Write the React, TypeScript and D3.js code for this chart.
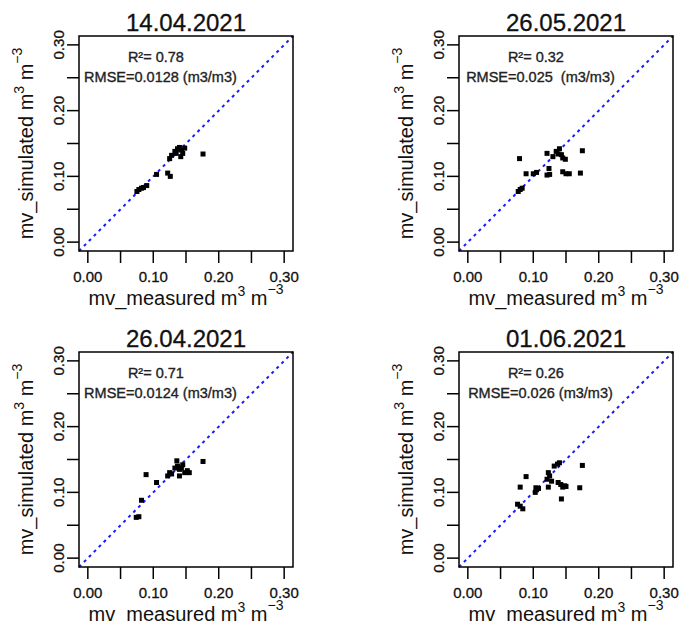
import React from "react";
import * as d3 from "d3";

const titles = ["14.04.2021", "26.05.2021", "26.04.2021", "01.06.2021"];
const r2Labels = ["R²= 0.78", "R²= 0.32", "R²= 0.71", "R²= 0.26"];
const rmseLabels = [
  "RMSE=0.0128 (m3/m3)",
  "RMSE=0.025  (m3/m3)",
  "RMSE=0.0124 (m3/m3)",
  "RMSE=0.026 (m3/m3)",
];
const tickValues = [0, 0.05, 0.1, 0.15, 0.2, 0.25, 0.3];
const labeledTicks = [0, 0.1, 0.2, 0.3];

// measured (x) and simulated (y) soil moisture per date
const measured1 = [0.075, 0.078, 0.082, 0.085, 0.09, 0.105, 0.122, 0.126, 0.125, 0.128, 0.133, 0.137, 0.14, 0.143, 0.145, 0.142, 0.135, 0.148, 0.176];
const simulated1 = [0.077, 0.08, 0.082, 0.083, 0.086, 0.103, 0.105, 0.1, 0.127, 0.132, 0.138, 0.142, 0.144, 0.14, 0.135, 0.13, 0.135, 0.143, 0.134];

const measured2 = [0.077, 0.08, 0.083, 0.079, 0.089, 0.1, 0.105, 0.121, 0.125, 0.124, 0.121, 0.13, 0.135, 0.14, 0.138, 0.145, 0.143, 0.149, 0.145, 0.15, 0.155, 0.172, 0.175];
const simulated2 = [0.077, 0.08, 0.082, 0.127, 0.104, 0.104, 0.106, 0.102, 0.103, 0.112, 0.135, 0.13, 0.138, 0.142, 0.134, 0.128, 0.133, 0.126, 0.107, 0.104, 0.104, 0.105, 0.139];

const measured3 = [0.074, 0.078, 0.082, 0.089, 0.105, 0.122, 0.125, 0.128, 0.133, 0.137, 0.14, 0.143, 0.136, 0.145, 0.148, 0.152, 0.155, 0.14, 0.176];
const simulated3 = [0.062, 0.063, 0.088, 0.127, 0.115, 0.125, 0.13, 0.128, 0.137, 0.14, 0.135, 0.137, 0.148, 0.142, 0.13, 0.133, 0.13, 0.125, 0.147];

const measured4 = [0.076, 0.08, 0.084, 0.08, 0.089, 0.103, 0.105, 0.108, 0.104, 0.123, 0.121, 0.125, 0.123, 0.128, 0.132, 0.137, 0.14, 0.138, 0.142, 0.148, 0.145, 0.15, 0.143, 0.171, 0.175];
const simulated4 = [0.082, 0.079, 0.075, 0.108, 0.124, 0.1, 0.104, 0.106, 0.107, 0.108, 0.12, 0.125, 0.13, 0.117, 0.14, 0.143, 0.145, 0.115, 0.112, 0.11, 0.108, 0.109, 0.09, 0.107, 0.141];

const panelData = [
  [measured1, simulated1],
  [measured2, simulated2],
  [measured3, simulated3],
  [measured4, simulated4],
];

const W = 681;
const H = 624;
const boxW = 214;
const boxH = 215;
const lefts = [79, 459];
const tops = [36, 352];
const domain: [number, number] = [-0.0135, 0.3135];
const font = "Liberation Sans, Arial, sans-serif";

function Panel({ idx }: { idx: number }) {
  const col = idx % 2;
  const row = Math.floor(idx / 2);
  const left = lefts[col];
  const top = tops[row];
  const x = d3.scaleLinear().domain(domain).range([left, left + boxW]);
  const y = d3.scaleLinear().domain(domain).range([top + boxH, top]);
  const [mx, sy] = panelData[idx];
  const bottom = top + boxH;
  const cx = left + boxW / 2;
  const cy = top + boxH / 2;
  const tickLen = 12;
  return (
    <g>
      <text x={cx} y={top - 5} textAnchor="middle" fontSize={24} fontFamily={font} fill="#111" stroke="#111" strokeWidth={0.3}>
        {titles[idx]}
      </text>
      <line
        x1={x(domain[0])}
        y1={y(domain[0])}
        x2={x(domain[1])}
        y2={y(domain[1])}
        stroke="#1a1aff"
        strokeWidth={2}
        strokeDasharray="3 4"
      />
      {mx.map((v, i) => (
        <rect key={i} x={x(v) - 2.5} y={y(sy[i]) - 2.5} width={5} height={5} fill="#000" />
      ))}
      <text x={x(0.104)} y={y(0.281)} textAnchor="middle" dominantBaseline="central" fontSize={14.5} fontFamily={font} fill="#222" stroke="#222" strokeWidth={0.35}>
        {r2Labels[idx]}
      </text>
      <text x={x(0.111)} y={y(0.251)} textAnchor="middle" dominantBaseline="central" fontSize={14.5} fontFamily={font} fill="#222" stroke="#222" strokeWidth={0.35} style={{ whiteSpace: "pre" }}>
        {rmseLabels[idx]}
      </text>
      <rect x={left} y={top} width={boxW} height={boxH} fill="none" stroke="#000" strokeWidth={1.5} />
      {tickValues.map((t) => (
        <g key={"x" + t}>
          <line x1={x(t)} x2={x(t)} y1={bottom} y2={bottom + tickLen} stroke="#000" strokeWidth={1.5} />
          <line x1={left} x2={left - tickLen} y1={y(t)} y2={y(t)} stroke="#000" strokeWidth={1.5} />
        </g>
      ))}
      {labeledTicks.map((t) => (
        <g key={"l" + t}>
          <text x={x(t)} y={bottom + 31} textAnchor="middle" fontSize={15} fontFamily={font} fill="#111" stroke="#111" strokeWidth={0.3}>
            {d3.format(".2f")(t)}
          </text>
          <text
            transform={`translate(${left - 15},${y(t)}) rotate(-90)`}
            textAnchor="middle"
            fontSize={15}
            fontFamily={font}
            fill="#111"
            stroke="#111"
            strokeWidth={0.3}
          >
            {d3.format(".2f")(t)}
          </text>
        </g>
      ))}
      <text x={cx} y={bottom + 54} textAnchor="middle" fontSize={20} fontFamily={font} fill="#111">
        mv_measured m
        <tspan fontSize={14} dy={-9}>3</tspan>
        <tspan dy={9}> m</tspan>
        <tspan fontSize={14} dy={-11}>−3</tspan>
      </text>
      <text
        transform={`translate(${left - 46},${cy}) rotate(-90)`}
        textAnchor="middle"
        fontSize={20}
        fontFamily={font}
        fill="#111"
      >
        mv_simulated m
        <tspan fontSize={14} dy={-9}>3</tspan>
        <tspan dy={9}> m</tspan>
        <tspan fontSize={14} dy={-11}>−3</tspan>
      </text>
    </g>
  );
}

export default function App() {
  return (
    <svg
      width={W}
      height={H}
      viewBox={`0 0 ${W} ${H}`}
      style={{ position: "absolute", left: 0, top: 0, background: "#fff" }}
    >
      <rect width={W} height={H} fill="#fff" />
      {[0, 1, 2, 3].map((i) => (
        <Panel key={i} idx={i} />
      ))}
    </svg>
  );
}
